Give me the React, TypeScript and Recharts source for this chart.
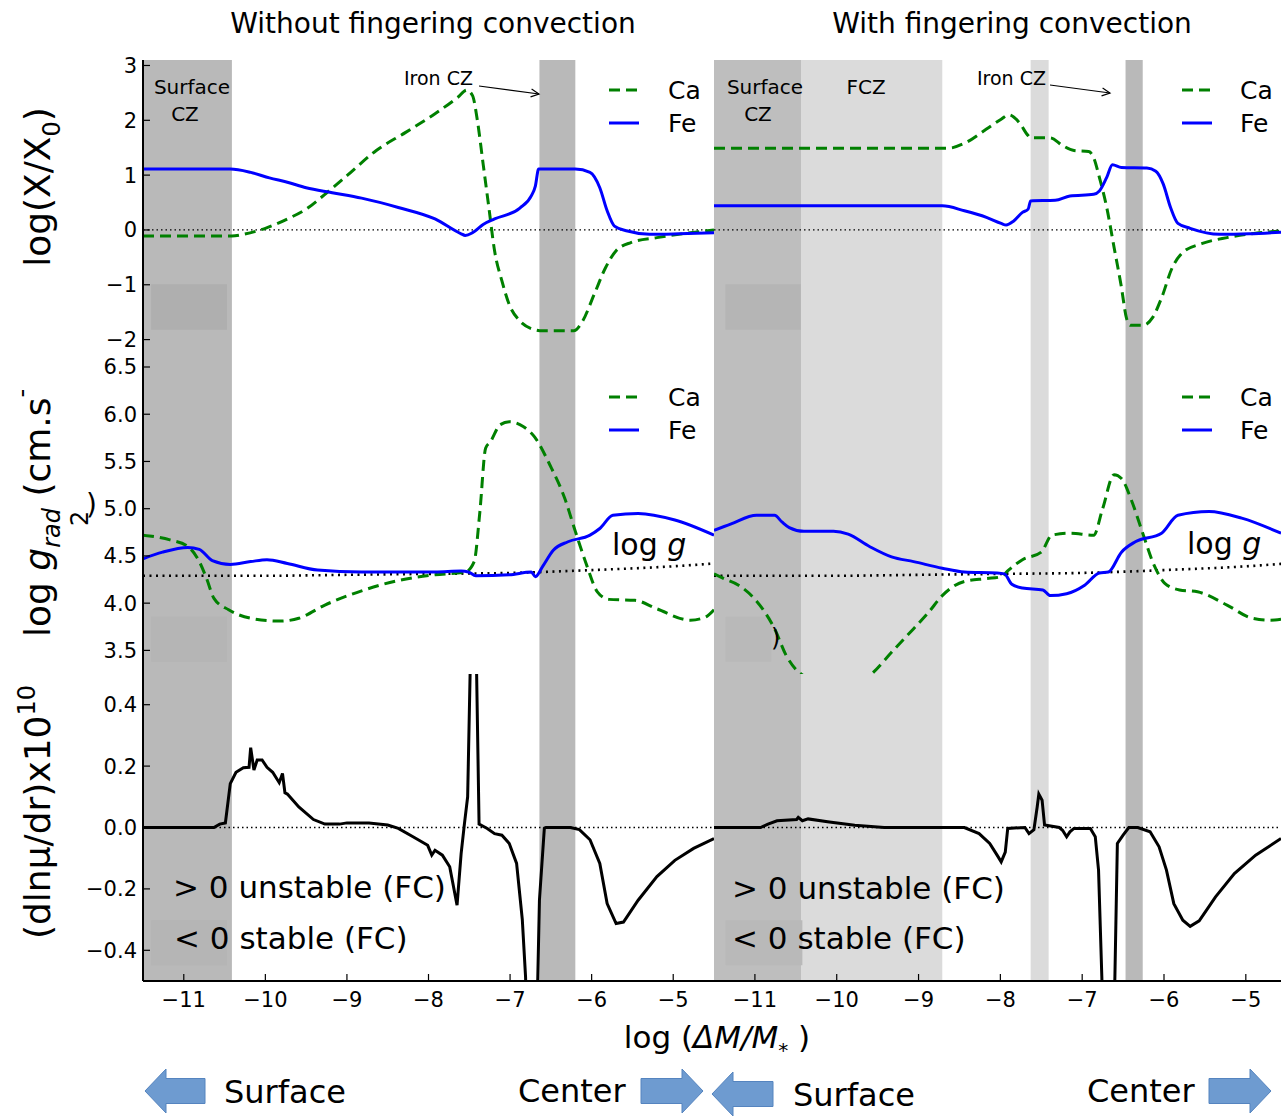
import React from 'react';
import { ComposedChart, Line, XAxis, YAxis, ReferenceArea, ReferenceLine } from 'recharts';

type Pt = [number, number];

const FONT = '"DejaVu Sans", sans-serif';
const GREEN = '#008000';
const BLUE = '#0000ff';

// log(ΔM/M*) ticks shared by every panel
const xTicks = [-11, -10, -9, -8, -7, -6, -5];
const abundTicks = [-2, -1, 0, 1, 2, 3];
const gradTicks = [3.5, 4.0, 4.5, 5.0, 5.5, 6.0, 6.5];
const muTicks = [-0.4, -0.2, 0, 0.2, 0.4];

// log(X/X0), no fingering convection
const caAbundNoFc: Pt[] = [
  [-11.5, -0.11], [-10.41, -0.11], [-10.27, -0.08], [-10.0, 0.03], [-9.73, 0.2], [-9.5, 0.38],
  [-9.27, 0.65], [-9.0, 0.99], [-8.64, 1.45], [-8.28, 1.78], [-7.92, 2.12], [-7.64, 2.42],
  [-7.53, 2.55], [-7.46, 2.45], [-7.4, 1.99], [-7.33, 1.2], [-7.26, 0.41], [-7.19, -0.38],
  [-7.1, -0.93], [-7.01, -1.36], [-6.88, -1.66], [-6.74, -1.8], [-6.6, -1.84], [-6.22, -1.84],
  [-6.11, -1.66], [-5.97, -1.18], [-5.83, -0.69], [-5.7, -0.38], [-5.52, -0.23], [-5.2, -0.14],
  [-4.88, -0.07], [-4.5, 0],
];
const feAbundNoFc: Pt[] = [
  [-11.5, 1.11], [-10.43, 1.11], [-10.18, 1.05], [-9.95, 0.95], [-9.73, 0.87], [-9.5, 0.77],
  [-9.18, 0.68], [-8.82, 0.58], [-8.37, 0.41], [-7.92, 0.2], [-7.6, -0.07], [-7.55, -0.1],
  [-7.46, -0.05], [-7.33, 0.1], [-7.19, 0.2], [-6.88, 0.4], [-6.74, 0.62], [-6.69, 0.8],
  [-6.65, 1.11], [-6.2, 1.11], [-6.02, 1.05], [-5.9, 0.77], [-5.81, 0.35], [-5.72, 0.07],
  [-5.56, -0.02], [-5.29, -0.08], [-4.93, -0.07], [-4.5, -0.05],
];

// log(X/X0), with fingering convection
const caAbundFc: Pt[] = [
  [-11.5, 1.49], [-8.64, 1.49], [-8.44, 1.58], [-8.17, 1.84], [-7.99, 2.02], [-7.9, 2.1],
  [-7.77, 1.96], [-7.66, 1.72], [-7.63, 1.68], [-7.39, 1.68], [-7.24, 1.54], [-7.1, 1.45],
  [-6.92, 1.43], [-6.86, 1.32], [-6.79, 0.96], [-6.7, 0.41], [-6.61, -0.32], [-6.52, -1.05],
  [-6.46, -1.6], [-6.41, -1.74], [-6.26, -1.74], [-6.14, -1.6], [-6.03, -1.24], [-5.9, -0.69],
  [-5.77, -0.41], [-5.54, -0.25], [-5.23, -0.14], [-4.88, -0.06], [-4.57, -0.02],
];
const feAbundFc: Pt[] = [
  [-11.5, 0.44], [-8.71, 0.44], [-8.44, 0.35], [-8.17, 0.23], [-7.99, 0.12], [-7.93, 0.09],
  [-7.84, 0.16], [-7.73, 0.32], [-7.66, 0.38], [-7.63, 0.53], [-7.33, 0.54], [-7.15, 0.62],
  [-6.86, 0.65], [-6.79, 0.71], [-6.7, 0.96], [-6.63, 1.19], [-6.52, 1.14], [-6.21, 1.13],
  [-6.1, 1.07], [-6.01, 0.84], [-5.92, 0.41], [-5.83, 0.12], [-5.68, 0.03], [-5.32, -0.08],
  [-4.96, -0.07], [-4.57, -0.04],
];

// log g_rad, no fingering convection
const caGradNoFc: Pt[] = [
  [-11.5, 4.72], [-11.17, 4.67], [-10.95, 4.6], [-10.81, 4.44], [-10.72, 4.26], [-10.63, 4.05],
  [-10.45, 3.93], [-10.18, 3.84], [-9.82, 3.81], [-9.59, 3.84], [-9.27, 3.98], [-8.82, 4.13],
  [-8.37, 4.24], [-7.92, 4.3], [-7.55, 4.33], [-7.44, 4.44], [-7.37, 4.97], [-7.3, 5.64],
  [-7.24, 5.71], [-7.12, 5.89], [-7.01, 5.92], [-6.88, 5.89], [-6.7, 5.76], [-6.51, 5.46],
  [-6.33, 5.11], [-6.2, 4.76], [-6.06, 4.4], [-5.93, 4.12], [-5.79, 4.04], [-5.47, 4.03],
  [-5.2, 3.94], [-4.79, 3.82], [-4.61, 3.85], [-4.5, 3.93],
];
const feGradNoFc: Pt[] = [
  [-11.5, 4.47], [-11.26, 4.54], [-10.95, 4.59], [-10.81, 4.57], [-10.65, 4.45], [-10.43, 4.41],
  [-10.18, 4.44], [-9.98, 4.46], [-9.73, 4.42], [-9.36, 4.35], [-8.82, 4.33], [-7.92, 4.33],
  [-7.6, 4.34], [-7.51, 4.33], [-7.42, 4.29], [-7.01, 4.3], [-6.74, 4.33], [-6.69, 4.28],
  [-6.6, 4.39], [-6.47, 4.56], [-6.29, 4.65], [-6.02, 4.72], [-5.9, 4.79], [-5.74, 4.93],
  [-5.43, 4.95], [-4.98, 4.88], [-4.5, 4.72],
];

// log g_rad, with fingering convection
const caGradFc: Pt[] = [
  [-11.5, 4.31], [-11.38, 4.26], [-11.2, 4.19], [-11.02, 4.06], [-10.89, 3.92], [-10.76, 3.73],
  [-10.62, 3.45], [-10.49, 3.29], [-10.42, 3.24], [-10.2, 3.1], [-10.0, 3.05], [-9.8, 3.1],
  [-9.55, 3.27], [-9.33, 3.48], [-9.06, 3.73], [-8.88, 3.9], [-8.71, 4.08], [-8.44, 4.23],
  [-8.17, 4.26], [-7.99, 4.28], [-7.9, 4.35], [-7.73, 4.46], [-7.5, 4.54], [-7.37, 4.72],
  [-7.15, 4.74], [-6.86, 4.72], [-6.75, 5.0], [-6.61, 5.36], [-6.52, 5.32], [-6.39, 5.07],
  [-6.26, 4.74], [-6.12, 4.4], [-5.99, 4.21], [-5.81, 4.14], [-5.59, 4.12], [-5.23, 3.98],
  [-4.92, 3.84], [-4.7, 3.82], [-4.57, 3.83],
];
const feGradFc: Pt[] = [
  [-11.5, 4.77], [-11.29, 4.84], [-10.98, 4.93], [-10.76, 4.93], [-10.67, 4.86], [-10.58, 4.8],
  [-10.4, 4.76], [-10.04, 4.76], [-9.86, 4.73], [-9.6, 4.6], [-9.33, 4.49], [-9.06, 4.44],
  [-8.71, 4.37], [-8.44, 4.33], [-8.04, 4.32], [-7.95, 4.31], [-7.86, 4.2], [-7.73, 4.16],
  [-7.48, 4.14], [-7.39, 4.08], [-7.19, 4.1], [-6.97, 4.19], [-6.79, 4.32], [-6.68, 4.33],
  [-6.52, 4.54], [-6.35, 4.65], [-6.03, 4.74], [-5.83, 4.93], [-5.45, 4.97], [-5.05, 4.9],
  [-4.57, 4.74],
];

// local gravity, same in both models
const logG: Pt[] = [
  [-11.5, 4.29], [-10, 4.29], [-9, 4.3], [-8, 4.31], [-7, 4.32], [-6, 4.35], [-5, 4.39], [-4.5, 4.42],
];

// dln(mu)/dr x 1e10
const muGradNoFc: Pt[] = [
  [-11.5, 0], [-10.63, 0], [-10.56, 0.011], [-10.49, 0.015], [-10.43, 0.143], [-10.36, 0.18],
  [-10.27, 0.195], [-10.2, 0.196], [-10.18, 0.26], [-10.14, 0.187], [-10.1, 0.22], [-10.04, 0.22],
  [-9.98, 0.196], [-9.91, 0.18], [-9.83, 0.146], [-9.79, 0.176], [-9.76, 0.113], [-9.73, 0.109],
  [-9.59, 0.067], [-9.41, 0.026], [-9.27, 0.011], [-9.09, 0.011], [-9.0, 0.015], [-8.73, 0.015],
  [-8.5, 0.008], [-8.37, -0.003], [-8.19, -0.03], [-8.01, -0.058], [-7.96, -0.09], [-7.92, -0.074],
  [-7.83, -0.09], [-7.74, -0.128], [-7.65, -0.253], [-7.6, -0.085], [-7.56, 0.011], [-7.52, 0.1],
  [-7.49, 0.5], [-7.47, 0.9], [-7.43, 0.9], [-7.41, 0.5], [-7.38, 0.011], [-7.28, -0.003],
  [-7.19, -0.02], [-7.1, -0.025], [-7.01, -0.052], [-6.92, -0.117], [-6.85, -0.3], [-6.81, -0.487],
  [-6.79, -0.7], [-6.68, -0.7], [-6.66, -0.487], [-6.64, -0.237], [-6.58, -0.003], [-6.56, 0],
  [-6.26, 0], [-6.15, -0.007], [-6.02, -0.04], [-5.9, -0.117], [-5.81, -0.248], [-5.7, -0.313],
  [-5.61, -0.308], [-5.43, -0.237], [-5.2, -0.16], [-4.98, -0.107], [-4.75, -0.068], [-4.5, -0.036],
];
const muGradFc: Pt[] = [
  [-11.5, 0], [-10.93, 0], [-10.84, 0.011], [-10.73, 0.022], [-10.49, 0.026], [-10.47, 0.033],
  [-10.42, 0.022], [-10.35, 0.028], [-10.09, 0.018], [-9.78, 0.007], [-9.42, 0], [-8.44, 0],
  [-8.26, -0.02], [-8.13, -0.052], [-8.04, -0.09], [-7.99, -0.112], [-7.94, -0.08], [-7.91, -0.003],
  [-7.7, 0], [-7.65, -0.02], [-7.59, -0.007], [-7.55, 0.067], [-7.53, 0.109], [-7.49, 0.089],
  [-7.46, 0.008], [-7.28, 0], [-7.24, -0.009], [-7.19, -0.03], [-7.15, -0.014], [-7.1, -0.003],
  [-6.9, -0.003], [-6.84, -0.03], [-6.8, -0.139], [-6.76, -0.485], [-6.74, -0.7], [-6.62, -0.7],
  [-6.6, -0.485], [-6.57, -0.052], [-6.5, -0.025], [-6.43, 0], [-6.32, 0], [-6.17, -0.014],
  [-6.06, -0.063], [-5.97, -0.139], [-5.88, -0.248], [-5.77, -0.302], [-5.68, -0.322],
  [-5.57, -0.304], [-5.37, -0.226], [-5.14, -0.15], [-4.88, -0.09], [-4.57, -0.036],
];

interface Band { x1: number; x2: number; y1?: number; y2?: number; fill: string }
interface Series { pts: Pt[]; color: string; width: number; dash?: string; curve: 'monotone' | 'linear' }

// convective zones
const zonesNoFc: Band[] = [
  { x1: -11.5, x2: -10.41, fill: '#b9b9b9' },
  { x1: -6.64, x2: -6.2, fill: '#b9b9b9' },
];
const zonesFc: Band[] = [
  { x1: -11.5, x2: -10.43, fill: '#bebebe' },
  { x1: -10.43, x2: -8.71, fill: '#dbdbdb' },
  { x1: -7.63, x2: -7.41, fill: '#dbdbdb' },
  { x1: -6.47, x2: -6.26, fill: '#b9b9b9' },
];

const toRows = (pts: Pt[]) => pts.map(([x, y]) => ({ x, y }));
const fmtInt = (v: number) => (v < 0 ? '\u2212' + Math.abs(v) : String(v));
const fmt1 = (v: number) => (v < -1e-9 ? '\u2212' + Math.abs(v).toFixed(1) : Math.abs(v).toFixed(1));

const spine = { stroke: '#000', strokeWidth: 2 };
const tickLine = { stroke: '#000', strokeWidth: 1.2 };
const tickText = { fontSize: 21, fill: '#000', fontFamily: FONT };
const noTick = () => <g />;

interface PanelProps {
  left: number;
  top: number;
  plotW: number;
  plotH: number;
  xDomain: [number, number];
  yDomain: [number, number];
  yTicks: number[];
  yFmt: (v: number) => string;
  yLabels: boolean;
  xLabels: boolean;
  bands: Band[];
  lines: Series[];
  zeroLine?: boolean;
}

const PAD_TOP = 14;

function Panel(p: PanelProps) {
  const padL = p.yLabels ? 143 : 6;
  const bottomH = p.xLabels ? 50 : 0;
  const width = padL + p.plotW + 6;
  const height = PAD_TOP + p.plotH + bottomH + (p.xLabels ? 0 : 4);
  return (
    <div style={{ position: 'absolute', left: p.left - padL, top: p.top - PAD_TOP }}>
      <ComposedChart
        width={width}
        height={height}
        margin={{ top: PAD_TOP, right: 6, bottom: p.xLabels ? 0 : 4, left: p.yLabels ? 0 : 6 }}
      >
        {p.bands.map((b, i) => (
          <ReferenceArea
            key={'b' + i}
            x1={b.x1}
            x2={b.x2}
            y1={b.y1}
            y2={b.y2}
            fill={b.fill}
            fillOpacity={1}
            stroke="none"
            ifOverflow="hidden"
          />
        ))}
        {p.zeroLine && <ReferenceLine y={0} stroke="#000" strokeWidth={1.3} strokeDasharray="1.5 3" />}
        {p.lines.map((s, i) => (
          <Line
            key={'l' + i}
            data={toRows(s.pts)}
            dataKey="y"
            type={s.curve}
            stroke={s.color}
            strokeWidth={s.width}
            strokeDasharray={s.dash}
            dot={false}
            activeDot={false}
            isAnimationActive={false}
          />
        ))}
        <XAxis
          dataKey="x"
          type="number"
          domain={p.xDomain}
          allowDataOverflow
          ticks={xTicks}
          interval={0}
          height={bottomH}
          tickSize={-7}
          tickMargin={18}
          tick={p.xLabels ? tickText : noTick}
          tickFormatter={fmtInt}
          axisLine={spine}
          tickLine={tickLine}
        />
        <XAxis
          xAxisId="top"
          orientation="top"
          dataKey="x"
          type="number"
          domain={p.xDomain}
          allowDataOverflow
          ticks={xTicks}
          interval={0}
          height={0}
          tickSize={-7}
          tick={noTick}
          axisLine={spine}
          tickLine={tickLine}
        />
        <YAxis
          type="number"
          domain={p.yDomain}
          allowDataOverflow
          ticks={p.yTicks}
          interval={0}
          width={p.yLabels ? 143 : 0}
          tickSize={-7}
          tickMargin={13}
          tick={p.yLabels ? tickText : noTick}
          tickFormatter={p.yFmt}
          axisLine={spine}
          tickLine={tickLine}
        />
        <YAxis
          yAxisId="right"
          orientation="right"
          type="number"
          domain={p.yDomain}
          allowDataOverflow
          ticks={p.yTicks}
          interval={0}
          width={0}
          tickSize={-7}
          tick={noTick}
          axisLine={spine}
          tickLine={tickLine}
        />
      </ComposedChart>
    </div>
  );
}

const ca = (pts: Pt[]): Series => ({ pts, color: GREEN, width: 3, dash: '11 6', curve: 'monotone' });
const fe = (pts: Pt[]): Series => ({ pts, color: BLUE, width: 3, curve: 'monotone' });
const gLine: Series = { pts: logG, color: '#000', width: 2.6, dash: '2 4.5', curve: 'monotone' };
const mu = (pts: Pt[]): Series => ({ pts, color: '#000', width: 3, curve: 'linear' });

function arrowHead(x1: number, y1: number, x2: number, y2: number) {
  const len = Math.hypot(x2 - x1, y2 - y1);
  const ux = (x2 - x1) / len;
  const uy = (y2 - y1) / len;
  const bx = x2 - 8 * ux;
  const by = y2 - 8 * uy;
  return `${bx - 4 * uy},${by + 4 * ux} ${x2},${y2} ${bx + 4 * uy},${by - 4 * ux}`;
}

function blockArrow(tipX: number, tailX: number, cy: number) {
  const d = tailX > tipX ? 1 : -1;
  const hb = tipX + d * 21;
  return [
    [tipX, cy], [hb, cy - 22], [hb, cy - 12.5], [tailX, cy - 12.5],
    [tailX, cy + 12.5], [hb, cy + 12.5], [hb, cy + 22],
  ].map((q) => q.join(',')).join(' ');
}

function Legend2({ lx, tx, y }: { lx: number; tx: number; y: number }) {
  return (
    <g>
      <line x1={lx} y1={y} x2={lx + 30} y2={y} stroke={GREEN} strokeWidth={3} strokeDasharray="11 6" />
      <text x={tx} y={y + 9} fontSize={25}>Ca</text>
      <line x1={lx} y1={y + 33} x2={lx + 30} y2={y + 33} stroke={BLUE} strokeWidth={3} />
      <text x={tx} y={y + 42} fontSize={25}>Fe</text>
    </g>
  );
}

export default function App() {
  const L: [number, number] = [-11.5, -4.5];
  const R: [number, number] = [-11.5, -4.57];
  const abundY: [number, number] = [-2.5, 3.1];
  const gradY: [number, number] = [3.25, 6.5];
  const muY: [number, number] = [-0.5, 0.5];

  return (
    <div
      style={{
        position: 'absolute', left: 0, top: 0, width: 1281, height: 1119,
        overflow: 'hidden', background: '#fff', fontFamily: FONT,
      }}
    >
      {/* left column: without fingering convection */}
      <Panel left={143} top={60} plotW={571} plotH={307} xDomain={L} yDomain={abundY} yTicks={abundTicks}
        yFmt={fmtInt} yLabels xLabels={false} zeroLine
        bands={[...zonesNoFc, { x1: -11.4, x2: -10.47, y1: -1.82, y2: -0.99, fill: '#afafaf' }]}
        lines={[ca(caAbundNoFc), fe(feAbundNoFc)]} />
      <Panel left={143} top={367} plotW={571} plotH={307} xDomain={L} yDomain={gradY} yTicks={gradTicks}
        yFmt={fmt1} yLabels xLabels={false}
        bands={[...zonesNoFc, { x1: -11.4, x2: -10.47, y1: 3.38, y2: 3.855, fill: '#b5b5b5' }]}
        lines={[gLine, ca(caGradNoFc), fe(feGradNoFc)]} />
      <Panel left={143} top={674} plotW={571} plotH={307} xDomain={L} yDomain={muY} yTicks={muTicks}
        yFmt={fmt1} yLabels xLabels zeroLine
        bands={[...zonesNoFc, { x1: -11.4, x2: -10.47, y1: -0.449, y2: -0.302, fill: '#b5b5b5' }]}
        lines={[mu(muGradNoFc)]} />

      {/* right column: with fingering convection */}
      <Panel left={714} top={60} plotW={567} plotH={307} xDomain={R} yDomain={abundY} yTicks={abundTicks}
        yFmt={fmtInt} yLabels={false} xLabels={false} zeroLine
        bands={[...zonesFc, { x1: -11.36, x2: -10.44, y1: -1.82, y2: -0.99, fill: '#b5b5b5' }]}
        lines={[ca(caAbundFc), fe(feAbundFc)]} />
      <Panel left={714} top={367} plotW={567} plotH={307} xDomain={R} yDomain={gradY} yTicks={gradTicks}
        yFmt={fmt1} yLabels={false} xLabels={false}
        bands={[...zonesFc, { x1: -11.36, x2: -10.8, y1: 3.38, y2: 3.855, fill: '#b9b9b9' }]}
        lines={[gLine, ca(caGradFc), fe(feGradFc)]} />
      <Panel left={714} top={674} plotW={567} plotH={307} xDomain={R} yDomain={muY} yTicks={muTicks}
        yFmt={fmt1} yLabels={false} xLabels zeroLine
        bands={[...zonesFc, { x1: -11.36, x2: -10.42, y1: -0.449, y2: -0.302, fill: '#b9b9b9' }]}
        lines={[mu(muGradFc)]} />

      {/* titles, axis labels and annotations */}
      <svg width={1281} height={1119} style={{ position: 'absolute', left: 0, top: 0, pointerEvents: 'none' }}
        fontFamily={FONT} fill="#000">
        <text x={433} y={33} fontSize={28} textAnchor="middle">Without fingering convection</text>
        <text x={1012} y={33} fontSize={28} textAnchor="middle">With fingering convection</text>

        <text transform="translate(50,187) rotate(-90)" fontSize={36} textAnchor="middle">
          log(X/X<tspan fontSize={24} dy={10}>0</tspan><tspan dy={-10}>)</tspan>
        </text>
        <text transform="translate(50,637) rotate(-90)" fontSize={36}>
          log <tspan fontStyle="italic">g</tspan>
          <tspan fontSize={24} fontStyle="italic" dy={10}>rad</tspan>
          <tspan dy={-10}> (cm.s</tspan>
          <tspan fontSize={24} dy={-20}>-</tspan>
        </text>
        <text transform="translate(88,526) rotate(-90)" fontSize={24}>2</text>
        <text x={86} y={514} fontSize={28}>)</text>
        <text transform="translate(50,812) rotate(-90)" fontSize={36} textAnchor="middle">
          (dlnμ/dr)x10<tspan fontSize={24} dy={-15}>10</tspan>
        </text>

        <text x={717} y={1048} fontSize={31} textAnchor="middle">
          log (<tspan fontStyle="italic">ΔM/M</tspan>
          <tspan fontSize={20} dy={9}>*</tspan>
          <tspan dy={-9}> )</tspan>
        </text>

        {/* zone names */}
        <text x={192} y={94} fontSize={20} textAnchor="middle">Surface</text>
        <text x={185} y={121} fontSize={20} textAnchor="middle">CZ</text>
        <text x={765} y={94} fontSize={20} textAnchor="middle">Surface</text>
        <text x={758} y={121} fontSize={20} textAnchor="middle">CZ</text>
        <text x={866} y={94} fontSize={20} textAnchor="middle">FCZ</text>

        <text x={404} y={85} fontSize={19}>Iron CZ</text>
        <line x1={479} y1={86} x2={539} y2={94} stroke="#000" strokeWidth={1.2} />
        <polyline points={arrowHead(479, 86, 539, 94)} fill="none" stroke="#000" strokeWidth={1.2} />
        <text x={977} y={85} fontSize={19}>Iron CZ</text>
        <line x1={1050} y1={85} x2={1110} y2={93} stroke="#000" strokeWidth={1.2} />
        <polyline points={arrowHead(1050, 85, 1110, 93)} fill="none" stroke="#000" strokeWidth={1.2} />

        <Legend2 lx={609} tx={668} y={90} />
        <Legend2 lx={1182} tx={1240} y={90} />
        <Legend2 lx={609} tx={668} y={397} />
        <Legend2 lx={1182} tx={1240} y={397} />

        <text x={612} y={555} fontSize={30}>log <tspan fontStyle="italic">g</tspan></text>
        <text x={1187} y={554} fontSize={30}>log <tspan fontStyle="italic">g</tspan></text>
        <text x={771} y={646} fontSize={24}>)</text>

        <text x={173} y={898} fontSize={31}>&gt; 0 unstable (FC)</text>
        <text x={174} y={949} fontSize={31}>&lt; 0 stable (FC)</text>
        <text x={732} y={899} fontSize={31}>&gt; 0 unstable (FC)</text>
        <text x={732} y={949} fontSize={31}>&lt; 0 stable (FC)</text>

        {/* direction arrows */}
        <g fill="#6e9bd0" stroke="#5584bf" strokeWidth={1}>
          <polygon points={blockArrow(145, 205, 1091)} />
          <polygon points={blockArrow(703, 641, 1091)} />
          <polygon points={blockArrow(712, 773, 1094)} />
          <polygon points={blockArrow(1271, 1209, 1091)} />
        </g>
        <text x={224} y={1103} fontSize={32}>Surface</text>
        <text x={518} y={1102} fontSize={32}>Center</text>
        <text x={793} y={1106} fontSize={32}>Surface</text>
        <text x={1087} y={1102} fontSize={32}>Center</text>
      </svg>
    </div>
  );
}
